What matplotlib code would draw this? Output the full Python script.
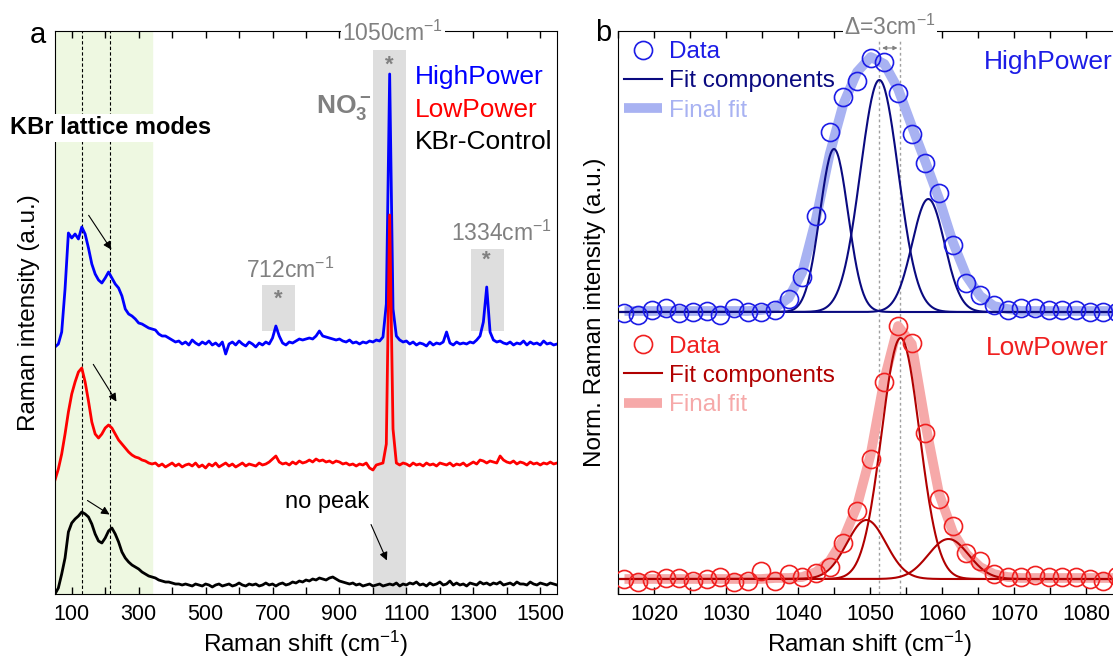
import numpy as np
import matplotlib.pyplot as plt
from matplotlib.patches import Rectangle
from matplotlib.ticker import MultipleLocator

plt.rcParams['font.family'] = ['Liberation Sans', 'DejaVu Sans']
plt.rcParams['mathtext.fontset'] = 'custom'
plt.rcParams['mathtext.rm'] = 'Liberation Sans'
plt.rcParams['mathtext.bf'] = 'Liberation Sans:bold'
plt.rcParams['mathtext.default'] = 'regular'

# ---- panel a: stacked Raman spectra (a.u., offsets included) ----
shift = np.arange(50, 1551, 10)

high_power = [247, 250, 262, 305, 361, 356, 360, 355, 367, 360,
              346, 330, 320, 314, 311, 316, 322, 316, 310, 306,
              298, 285, 280, 278, 275, 271, 270, 268, 266, 265,
              264, 260, 258, 258, 256, 254, 252, 253, 250, 252,
              249, 254, 251, 249, 252, 250, 253, 249, 251, 248,
              252, 240, 250, 252, 249, 253, 250, 248, 252, 250,
              247, 251, 249, 252, 250, 256, 268, 258, 251, 249,
              252, 251, 253, 255, 254, 255, 256, 255, 258, 263,
              258, 257, 256, 255, 254, 255, 253, 252, 254, 251,
              252, 250, 252, 251, 253, 252, 254, 253, 257, 290,
              520, 285, 258, 254, 252, 253, 250, 252, 249, 251,
              250, 248, 252, 249, 251, 250, 252, 262, 251, 249,
              252, 250, 251, 250, 252, 251, 254, 258, 272, 307,
              262, 254, 252, 253, 251, 250, 252, 249, 251, 250,
              253, 249, 252, 250, 251, 249, 253, 250, 251, 249,
              250]

low_power = [114, 125, 140, 160, 182, 200, 212, 222, 226, 212,
             193, 172, 160, 156, 160, 166, 169, 166, 160, 154,
             150, 146, 142, 139, 137, 136, 134, 133, 131, 130,
             131, 128, 130, 127, 129, 131, 128, 130, 127, 129,
             130, 128, 131, 127, 129, 126, 130, 128, 131, 127,
             129, 131, 128, 130, 127, 129, 131, 128, 130, 129,
             128, 131, 129, 130, 132, 135, 138, 132, 130, 131,
             129, 132, 130, 133, 131, 132, 134, 132, 135, 133,
             134, 132, 133, 131, 133, 132, 130, 131, 129, 130,
             128, 130, 129, 131, 126, 124, 129, 130, 131, 150,
             379, 165, 131, 129, 131, 130, 128, 131, 129, 130,
             128, 131, 129, 130, 128, 131, 130, 129, 131, 128,
             130, 129, 131, 128, 130, 132, 130, 134, 133, 131,
             133, 132, 131, 138, 134, 132, 131, 133, 130, 132,
             131, 129, 132, 130, 131, 129, 131, 130, 132, 130,
             131]

kbr_control = [0, 6, 20, 36, 62, 71, 75, 78, 82, 80,
               77, 70, 60, 53, 51, 56, 63, 66, 60, 52,
               42, 36, 32, 29, 27, 25, 22, 20, 18, 17,
               16, 14, 13, 12, 12, 11, 10, 10, 9, 10,
               9, 8, 10, 9, 8, 10, 9, 7, 9, 10,
               8, 9, 10, 8, 9, 11, 9, 8, 10, 9,
               10, 8, 9, 11, 9, 10, 8, 10, 11, 9,
               10, 12, 11, 13, 12, 14, 13, 15, 14, 16,
               15, 14, 16, 17, 15, 13, 12, 11, 10, 11,
               9, 10, 8, 9, 10, 8, 9, 10, 8, 9,
               10, 9, 11, 8, 10, 9, 11, 10, 12, 9,
               10, 8, 11, 9, 10, 12, 9, 10, 13, 9,
               11, 9, 10, 8, 11, 10, 9, 12, 10, 11,
               9, 11, 10, 12, 9, 10, 11, 9, 12, 10,
               10, 9, 12, 10, 9, 11, 10, 9, 11, 10,
               9]

# ---- panel b: NO3- band, data + fit ----
fit_x = [1015.9, 1017.8, 1019.7, 1021.6, 1023.5, 1025.4, 1027.3, 1029.2,
         1031.1, 1033.0, 1034.9, 1036.8, 1038.7, 1040.6, 1042.5, 1044.4,
         1046.3, 1048.2, 1050.1, 1052.0, 1053.9, 1055.8, 1057.7, 1059.6,
         1061.5, 1063.4, 1065.3, 1067.2, 1069.1, 1071.0, 1072.9, 1074.8,
         1076.7, 1078.6, 1080.5, 1082.4, 1084.3]

hp_data = [281, 279, 284, 286, 281, 282, 283, 279, 286, 282, 282, 284,
           295, 317, 378, 462, 497, 513, 536, 532, 501, 460, 431, 401,
           349, 311, 299, 289, 284, 286, 286, 284, 284, 284, 282, 282, 282]
hp_final = [283, 283, 283, 283, 283, 283, 283, 283, 283, 283, 284, 286,
            296, 322, 375, 440, 490, 522, 537, 530, 505, 468, 432, 395,
            352, 318, 298, 288, 285, 283, 283, 283, 283, 283, 283, 283, 283]
lp_data = [15, 12, 14, 16, 16, 13, 15, 17, 12, 13, 23, 13,
           20, 17, 21, 27, 51, 83, 135, 212, 268, 251, 161, 95,
           68, 41, 33, 20, 17, 17, 19, 17, 17, 17, 15, 13, 18]
lp_final = [15, 15, 15, 15, 15, 15, 15, 15, 15, 15, 15, 16,
            16, 17, 22, 33, 55, 88, 140, 215, 268, 250, 170, 100,
            62, 40, 27, 20, 17, 16, 16, 16, 16, 16, 16, 16, 16]

# fit components (centre, height above baseline, fwhm)
hp_centres = [1045.0, 1051.3, 1058.1]
hp_heights = [163, 232, 113]
hp_fwhm = [4.6, 6.2, 5.3]
hp_base = 282
lp_centres = [1049.5, 1054.25, 1060.9]
lp_heights = [59, 241, 40]
lp_fwhm = [6.4, 6.2, 6.6]
lp_base = 15


def gauss(x, c, h, w, base):
    return base + h * np.exp(-4 * np.log(2) * (x - c) ** 2 / w ** 2)


grey = '#808080'
fig = plt.figure(figsize=(11.13, 6.59), dpi=100)
ax = fig.add_axes([55 / 1113, 65 / 659, 502 / 1113, 563 / 659])
axb = fig.add_axes([618 / 1113, 65 / 659, 504 / 1113, 563 / 659])

# panel a
ax.axvspan(50, 340, color='#eef8e1', zorder=0)
ax.add_patch(Rectangle((1000, 0), 100, 544, color='#dedede', lw=0, zorder=0.5))
ax.add_patch(Rectangle((668, 263), 99, 46, color='#dedede', lw=0, zorder=0.5))
ax.add_patch(Rectangle((1293, 263), 98, 82, color='#dedede', lw=0, zorder=0.5))
for xv in [130, 214]:
    ax.axvline(xv, color='k', lw=0.8, ls=(0, (3, 2)), zorder=1)

ax.plot(shift, high_power, color='#0000ff', lw=2, zorder=2)
ax.plot(shift, low_power, color='#ff0000', lw=2, zorder=2.1)
ax.plot(shift, kbr_control, color='k', lw=2, zorder=2.2)

ax.set_xlim(50, 1550)
ax.set_ylim(0, 563)
ax.set_yticks([])
ax.set_xticks(range(100, 1501, 200))
ax.xaxis.set_minor_locator(MultipleLocator(100))
ax.tick_params(axis='x', which='both', direction='in', top=True, length=5,
               width=1, labelsize=15.5, pad=7)
ax.set_xlabel('Raman shift (cm$^{-1}$)', fontsize=17.5, labelpad=3)
ax.set_ylabel('Raman intensity (a.u.)', fontsize=17.5, labelpad=11)

ax.text(1126, 517, 'HighPower', color='#0000ff', fontsize=19, va='center')
ax.text(1126, 484, 'LowPower', color='#ff0000', fontsize=19, va='center')
ax.text(1126, 452, 'KBr-Control', color='k', fontsize=19, va='center')
ax.text(-84, 466, 'KBr lattice modes', fontsize=17, fontweight='bold', va='center',
        clip_on=False, zorder=5,
        bbox=dict(facecolor='white', edgecolor='none', pad=2))
ax.text(1060, 561, '1050cm$^{-1}$', color=grey, fontsize=16.5, ha='center', va='center',
        clip_on=False, zorder=5, bbox=dict(facecolor='white', edgecolor='none', pad=1))
ax.text(752, 324, '712cm$^{-1}$', color=grey, fontsize=16.5, ha='center', va='center')
ax.text(1385, 361, '1334cm$^{-1}$', color=grey, fontsize=16.5, ha='center', va='center')
ax.text(913, 487, r'$\mathbf{NO_3^-}$', color=grey, fontsize=19, ha='center', va='center')
for xs, ys in [(1050, 529), (717, 295), (1340, 334)]:
    ax.text(xs, ys, '*', color=grey, fontsize=16, fontweight='bold', ha='center', va='center')
ax.text(737, 92, 'no peak', fontsize=17, va='center')

arrows = [((146, 381), (223, 342)), ((160, 232), (238, 190)),
          ((140, 95), (220, 78)), ((991, 72), (1045, 31))]
for start, end in arrows:
    ax.annotate('', xy=end, xytext=start,
                arrowprops=dict(arrowstyle='-|>', color='k', lw=0.8, mutation_scale=12))

# panel b
xx = np.linspace(1014, 1086, 600)
axb.axvline(1051.3, color='#a0a0a0', lw=1, ls=(0, (2, 2)), zorder=0.5)
axb.axvline(1054.2, color='#a0a0a0', lw=1, ls=(0, (2, 2)), zorder=0.5)

hp_fit_line, = axb.plot(fit_x, hp_final, color='#a8b2f2', lw=7, zorder=1,
                        solid_capstyle='butt')
hp_dots, = axb.plot(fit_x, hp_data, 'o', ms=13, mfc='none', mec='#1c1ce6', mew=1.2, zorder=3)
for c, h, w in zip(hp_centres, hp_heights, hp_fwhm):
    hp_comp, = axb.plot(xx, gauss(xx, c, h, w, hp_base), color='#0a0a80', lw=1.5, zorder=2)

lp_fit_line, = axb.plot(fit_x, lp_final, color='#f6a9a9', lw=7, zorder=1,
                        solid_capstyle='butt')
lp_dots, = axb.plot(fit_x, lp_data, 'o', ms=13, mfc='none', mec='#f02020', mew=1.2, zorder=3)
for c, h, w in zip(lp_centres, lp_heights, lp_fwhm):
    lp_comp, = axb.plot(xx, gauss(xx, c, h, w, lp_base), color='#b00000', lw=1.5, zorder=2)

axb.set_xlim(1015, 1085)
axb.set_ylim(0, 563)
axb.set_yticks([])
axb.set_xticks(range(1020, 1081, 10))
axb.xaxis.set_minor_locator(MultipleLocator(5))
axb.tick_params(axis='x', which='both', direction='in', top=True, length=5,
                width=1, labelsize=15.5, pad=7)
axb.set_xlabel('Raman shift (cm$^{-1}$)', fontsize=17.5, labelpad=3)
axb.set_ylabel('Norm. Raman intensity (a.u.)', fontsize=17.5, labelpad=9)

leg_kw = dict(loc='upper left', frameon=False, fontsize=17.5, handlelength=1.55,
              handletextpad=0.3, labelspacing=0.3, borderpad=0, borderaxespad=0)
leg1 = axb.legend([hp_dots, hp_comp, hp_fit_line], ['Data', 'Fit components', 'Final fit'],
                  bbox_to_anchor=(0.012, 0.982), **leg_kw)
for t, c in zip(leg1.get_texts(), ['#1c1ce6', '#0a0a80', '#a8b2f2']):
    t.set_color(c)
axb.add_artist(leg1)
leg2 = axb.legend([lp_dots, lp_comp, lp_fit_line], ['Data', 'Fit components', 'Final fit'],
                  bbox_to_anchor=(0.012, 0.459), **leg_kw)
for t, c in zip(leg2.get_texts(), ['#f02020', '#b00000', '#f6a9a9']):
    t.set_color(c)

axb.text(1065.8, 532, 'HighPower', color='#1c1ce6', fontsize=19, va='center')
axb.text(1066.1, 246, 'LowPower', color='#f02020', fontsize=19, va='center')
axb.text(1052.75, 567, '\u0394=3cm$^{-1}$', color=grey, fontsize=16.5, ha='center', va='center',
         clip_on=False, zorder=5, bbox=dict(facecolor='white', edgecolor='none', pad=1))
axb.annotate('', xy=(1051.3, 546), xytext=(1054.2, 546),
             arrowprops=dict(arrowstyle='<|-|>', color=grey, lw=0.8, mutation_scale=6))

fig.text(38 / 1113, 1 - 35 / 659, 'a', fontsize=21, ha='center', va='center')
fig.text(603 / 1113, 1 - 33 / 659, 'b', fontsize=21, ha='center', va='center')

fig.savefig('out.png', dpi=100)
